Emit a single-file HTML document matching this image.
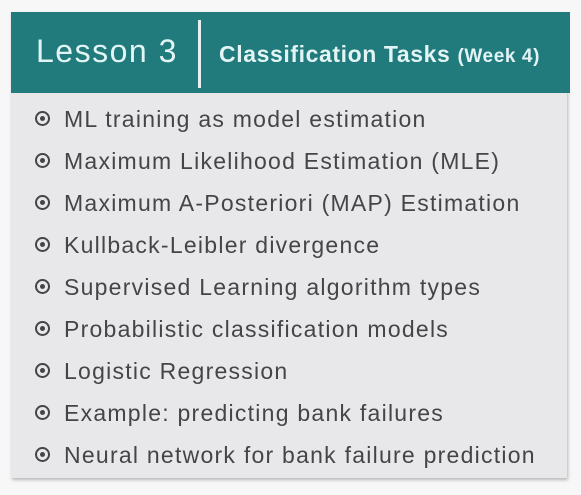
<!DOCTYPE html>
<html><head><meta charset="utf-8"><style>
body{margin:0;width:581px;height:495px;background:#f7f7f8;overflow:hidden;font-family:"Liberation Sans","DejaVu Sans",sans-serif;position:relative}
.box{position:absolute;left:11px;top:12px;width:556px;height:466px;background:#e8e8ea;box-shadow:1px 2px 3px rgba(0,0,0,0.25)}
.hdr{position:absolute;left:0;top:0;width:559px;height:81px;background:#217a7c}
.l3{position:absolute;left:25px;top:21px;font-size:32px;color:#e2f4f4;letter-spacing:1.5px}
.div{position:absolute;left:187px;top:8px;width:3px;height:68px;background:#e6f2f2}
.ct{position:absolute;left:208px;top:29px;font-size:23px;font-weight:bold;color:#e2f4f4;letter-spacing:0.6px;white-space:nowrap}
.ct small{font-size:19px}
.item{position:absolute;left:24px;font-size:23px;color:#454547;height:30px;line-height:30px;white-space:nowrap;letter-spacing:1.25px}
.bul{display:inline-block;width:11px;height:11px;border:2.5px solid #454547;border-radius:50%;position:relative;vertical-align:middle;margin-right:14px;margin-top:-4px}
.bul::after{content:"";position:absolute;left:3px;top:3px;width:5px;height:5px;border-radius:50%;background:#454547}
</style></head><body>
<div class="box">
<div class="hdr">
<div class="l3">Lesson 3</div>
<div class="div"></div>
<div class="ct">Classification Tasks <small>(Week 4)</small></div>
</div>
<div class="item" style="top:92px"><span class="bul"></span>ML training as model estimation</div>
<div class="item" style="top:134px"><span class="bul"></span>Maximum Likelihood Estimation (MLE)</div>
<div class="item" style="top:176px"><span class="bul"></span>Maximum A-Posteriori (MAP) Estimation</div>
<div class="item" style="top:218px"><span class="bul"></span>Kullback-Leibler divergence</div>
<div class="item" style="top:260px"><span class="bul"></span>Supervised Learning algorithm types</div>
<div class="item" style="top:302px"><span class="bul"></span>Probabilistic classification models</div>
<div class="item" style="top:344px"><span class="bul"></span>Logistic Regression</div>
<div class="item" style="top:386px"><span class="bul"></span>Example: predicting bank failures</div>
<div class="item" style="top:428px"><span class="bul"></span>Neural network for bank failure prediction</div>
</div>
</body></html>
